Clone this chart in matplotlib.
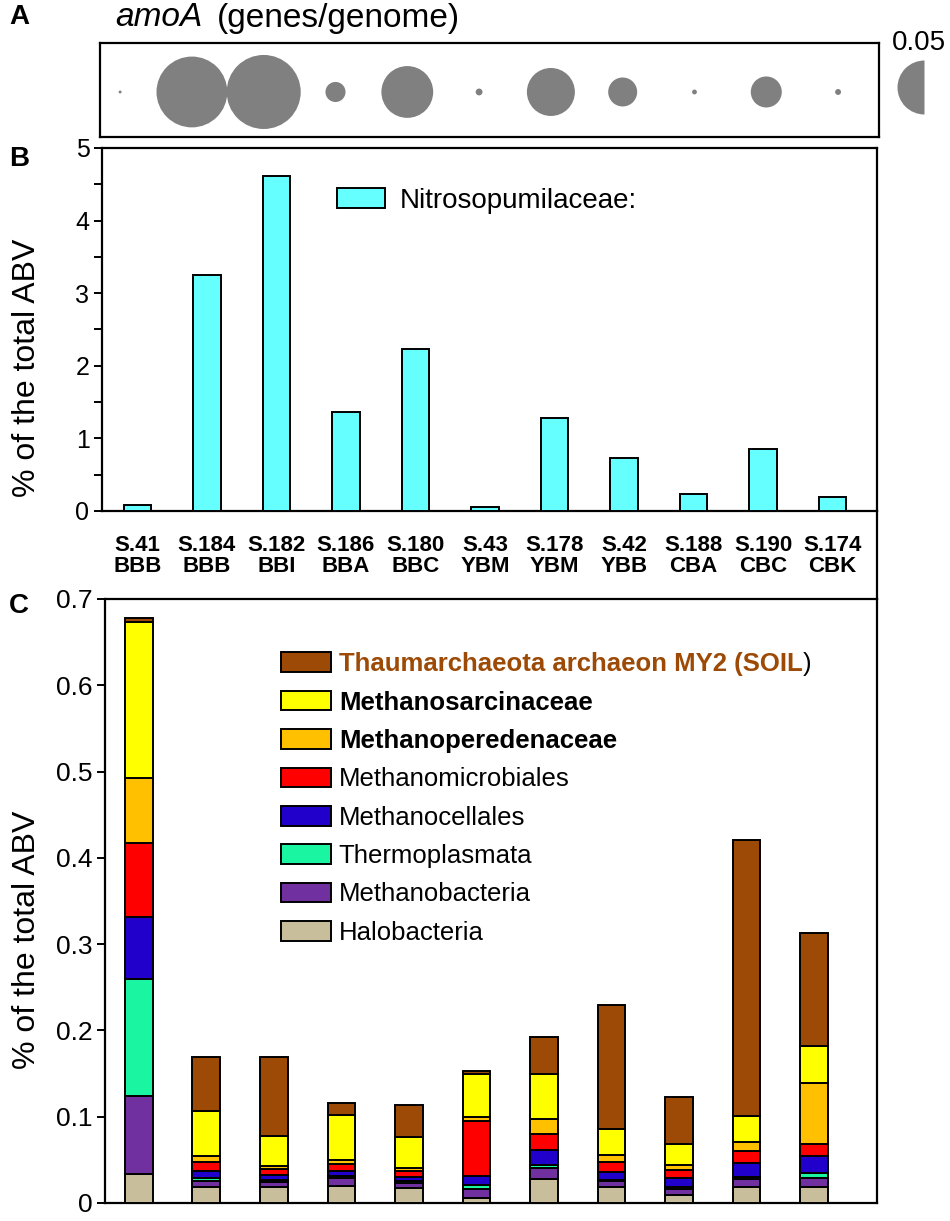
import numpy as np
import matplotlib
matplotlib.use("Agg")
import matplotlib.pyplot as plt
from matplotlib.patches import Patch
from matplotlib.lines import Line2D

plt.rcParams['font.family'] = ['Liberation Sans', 'DejaVu Sans']

# ---- data ----
samples = ["S.41", "S.184", "S.182", "S.186", "S.180", "S.43",
           "S.178", "S.42", "S.188", "S.190", "S.174"]
sites = ["BBB", "BBB", "BBI", "BBA", "BBC", "YBM",
         "YBM", "YBB", "CBA", "CBC", "CBK"]

# panel A: amoA genes per genome (bubble area)
amoA = [0.00015, 0.086, 0.094, 0.0069, 0.046, 0.0008,
        0.0395, 0.0144, 0.0004, 0.0165, 0.0006]
amoA_ref = 0.05

# panel B: Nitrosopumilaceae, % of total ABV
nitroso = [0.08, 3.25, 4.62, 1.36, 2.23, 0.055, 1.28, 0.73, 0.23, 0.86, 0.19]

# panel C: stacked groups, % of total ABV (bottom -> top)
halobacteria = [0.034, 0.018, 0.018, 0.020, 0.017, 0.006, 0.0275, 0.019, 0.009, 0.019, 0.019]
methanobacteria = [0.090, 0.008, 0.006, 0.009, 0.006, 0.010, 0.0125, 0.006, 0.007, 0.009, 0.010]
thermoplasmata = [0.136, 0.003, 0.003, 0.002, 0.002, 0.005, 0.0045, 0.002, 0.002, 0.002, 0.006]
methanocellales = [0.071, 0.008, 0.005, 0.006, 0.005, 0.010, 0.0175, 0.009, 0.011, 0.016, 0.019]
methanomicrobiales = [0.086, 0.010, 0.007, 0.008, 0.007, 0.064, 0.0175, 0.011, 0.009, 0.014, 0.014]
methanoperedenaceae = [0.075, 0.007, 0.004, 0.005, 0.004, 0.005, 0.018, 0.009, 0.006, 0.011, 0.071]
methanosarcinaceae = [0.181, 0.053, 0.035, 0.052, 0.036, 0.050, 0.0515, 0.030, 0.024, 0.030, 0.043]
thaumarchaeota = [0.005, 0.062, 0.091, 0.014, 0.036, 0.003, 0.043, 0.143, 0.055, 0.320, 0.1305]

groups = [halobacteria, methanobacteria, thermoplasmata, methanocellales,
          methanomicrobiales, methanoperedenaceae, methanosarcinaceae, thaumarchaeota]
group_names = ["Halobacteria", "Methanobacteria", "Thermoplasmata", "Methanocellales",
               "Methanomicrobiales", "Methanoperedenaceae", "Methanosarcinaceae",
               "Thaumarchaeota archaeon MY2 (SOIL"]
group_colors = ["#C8BE9B", "#7030A0", "#19F5A0", "#2200CC",
                "#FF0000", "#FFC000", "#FFFF00", "#9C4A06"]

c_ticks = [0, 0.1, 0.2, 0.3, 0.4, 0.5, 0.6, 0.7]

W, H = 950, 1221
fig = plt.figure(figsize=(W / 100, H / 100), dpi=100)


def box(l, t, r, b):
    return [l / W, 1 - b / H, (r - l) / W, (b - t) / H]


lw = 1.6
x = np.arange(len(samples))

# ---- panel A ----
ax_a = fig.add_axes(box(100, 43, 879, 137))
ax_a.set_xlim(-0.28, 10.57)
ax_a.set_ylim(0, 1)
ax_a.set_xticks([])
ax_a.set_yticks([])
for sp in ax_a.spines.values():
    sp.set_linewidth(lw)
s_ref = (54 * 0.72) ** 2
sizes = [s_ref * v / amoA_ref for v in amoA]
ax_a.scatter(x, [0.479] * len(x), s=sizes, color="#808080", linewidths=0, zorder=3)
ax_a.plot([11.20], [0.532], marker='o', markersize=np.sqrt(s_ref), fillstyle='left',
          markerfacecolor="#808080", markerfacecoloralt='none', markeredgewidth=0,
          linestyle='none', clip_on=False)
ax_a.text(11.13, 1.0, "{:g}".format(amoA_ref), ha='center', va='center', fontsize=20,
          clip_on=False)
fig.text(115 / W, 1 - 18 / H, "amoA", style='italic', fontsize=24, va='center', ha='left')
fig.text(217 / W, 1 - 18 / H, "(genes/genome)", fontsize=24, va='center', ha='left')

# ---- panel B ----
ax_b = fig.add_axes(box(102, 148, 877, 511))
ax_b.bar(x, nitroso, width=0.40, color="#66FFFF", edgecolor="black", linewidth=1.4,
         label="Nitrosopumilaceae:", zorder=3)
ax_b.set_xlim(-0.51, 10.64)
ax_b.set_ylim(0, 5)
ax_b.set_yticks(range(6))
ax_b.set_yticks(np.arange(0.5, 5, 1), minor=True)
ax_b.tick_params(axis='y', which='both', direction='out', length=6, width=1.4,
                 labelsize=18, pad=3)
ax_b.set_xticks(x)
ax_b.set_xticklabels([s + "\n" + t for s, t in zip(samples, sites)],
                     fontweight='bold', fontsize=16, linespacing=1.05)
ax_b.tick_params(axis='x', length=0, pad=17)
for sp in ax_b.spines.values():
    sp.set_linewidth(lw)
ax_b.legend(loc='upper left', bbox_to_anchor=(0.303, 0.89), frameon=False,
            fontsize=20, handlelength=1.75, handleheight=0.75, handletextpad=0.5,
            borderpad=0, borderaxespad=0)
fig.text(27 / W, 1 - 368 / H, "% of the total ABV", rotation=90, fontsize=23,
         ha='center', va='center')

# ---- panel C ----
ax_c = fig.add_axes(box(105, 599, 877, 1203))
bottom = np.zeros(len(x))
handles = []
for vals, name, col in zip(groups, group_names, group_colors):
    ax_c.bar(x, vals, bottom=bottom, width=0.41, color=col, edgecolor="black",
             linewidth=1.4, zorder=3)
    bottom += np.array(vals)
    handles.append(Patch(facecolor=col, edgecolor="black", linewidth=1.4, label=name))
ax_c.set_xlim(-0.50, 10.93)
ax_c.set_ylim(0, 0.7)
ax_c.set_yticks(c_ticks)
ax_c.set_yticklabels(["{:g}".format(t) for t in c_ticks])
ax_c.tick_params(axis='y', direction='out', length=6, width=1.4, labelsize=19, pad=3)
ax_c.set_xticks([])
for sp in ax_c.spines.values():
    sp.set_linewidth(lw)
leg = ax_c.legend(handles=handles[::-1], loc='upper left', bbox_to_anchor=(0.228, 0.912),
                  frameon=False, fontsize=18.5, handlelength=1.95, handleheight=0.8,
                  handletextpad=0.3, labelspacing=0.56, borderpad=0, borderaxespad=0)
texts = leg.get_texts()
texts[0].set_color("#9C4A06")
for t in texts[:3]:
    t.set_fontweight('bold')
fig.text(27 / W, 1 - 940 / H, "% of the total ABV", rotation=90, fontsize=23,
         ha='center', va='center')

# right frame line joining B and C
fig.add_artist(Line2D([877 / W, 877 / W], [1 - 511 / H, 1 - 599 / H],
                      transform=fig.transFigure, color='black', linewidth=lw))

# panel letters
for letter, yy in [("A", 17), ("B", 159), ("C", 606)]:
    fig.text(19 / W, 1 - yy / H, letter, fontsize=20, fontweight='bold',
             ha='center', va='center')

# closing bracket of the first legend entry is black, not brown
fig.canvas.draw()
bb = texts[0].get_window_extent()
fig.text(bb.x1 / W, bb.y0 / H, ")", ha='left', va='bottom', fontsize=18.5)

fig.savefig("out.png", dpi=100)
